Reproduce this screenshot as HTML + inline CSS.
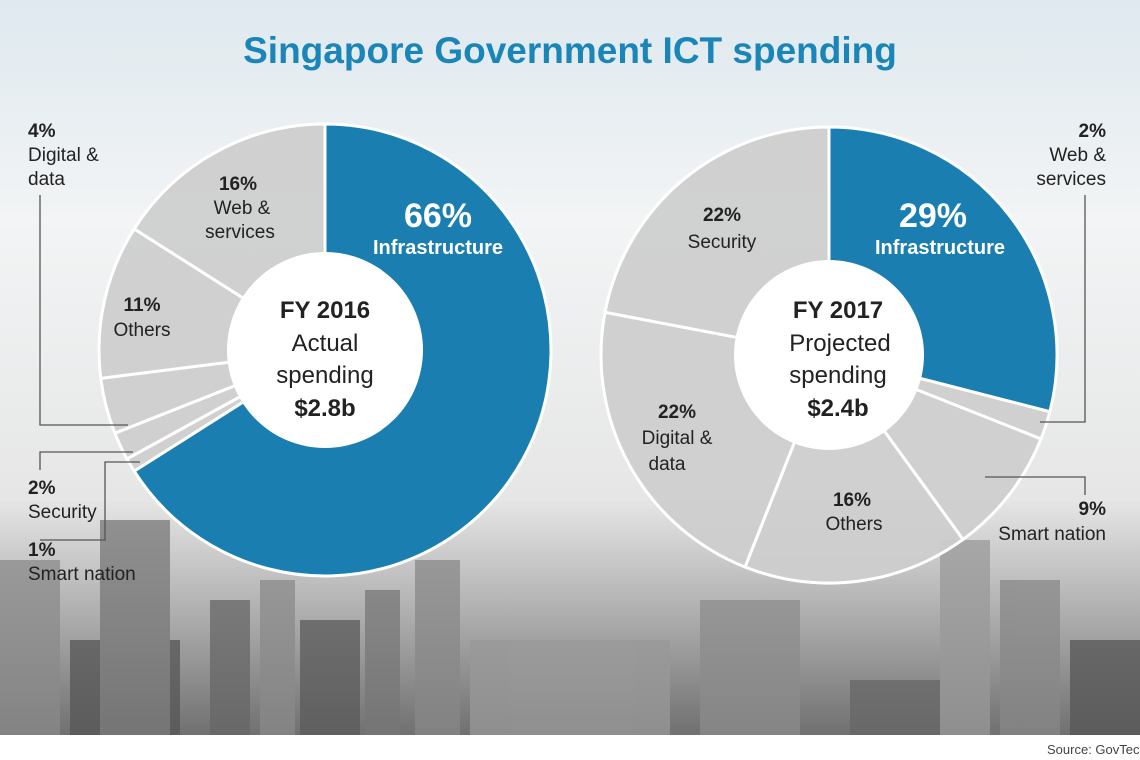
<!DOCTYPE html>
<html><head><meta charset="utf-8"><style>
body{margin:0;width:1140px;height:760px;overflow:hidden;font-family:"Liberation Sans",sans-serif;background:#fff}
svg{display:block}
</style></head><body>
<svg width="1140" height="760">
<defs>
<linearGradient id="bg" x1="0" y1="0" x2="0" y2="1">
<stop offset="0" stop-color="#dfe9ef"/><stop offset="0.3" stop-color="#f2f4f5"/><stop offset="0.68" stop-color="#e6e6e6"/><stop offset="0.85" stop-color="#a9a9a9"/><stop offset="1" stop-color="#707070"/>
</linearGradient>
</defs>
<rect x="0" y="0" width="1140" height="735" fill="url(#bg)"/>
<g id="city" fill="#8a8a8a" opacity="0.75">
<rect x="0" y="560" width="60" height="175"/><rect x="70" y="640" width="110" height="95" fill="#555"/><rect x="100" y="520" width="70" height="215" fill="#777"/>
<rect x="210" y="600" width="40" height="135" fill="#666"/><rect x="260" y="580" width="35" height="155"/><rect x="300" y="620" width="60" height="115" fill="#5a5a5a"/>
<rect x="365" y="590" width="35" height="145" fill="#777"/><rect x="415" y="560" width="45" height="175" fill="#888"/><rect x="470" y="640" width="200" height="95" fill="#999"/>
<rect x="700" y="600" width="100" height="135" fill="#8c8c8c"/><rect x="850" y="680" width="110" height="55" fill="#666"/><rect x="940" y="540" width="50" height="195" fill="#999"/>
<rect x="1000" y="580" width="60" height="155" fill="#888"/><rect x="1070" y="640" width="70" height="95" fill="#555"/>
</g>
<text x="570" y="63" text-anchor="middle" font-size="37" font-weight="bold" fill="#1a86b8">Singapore Government ICT spending</text>
<g id="d1"></g><g id="d2"></g>
<g font-size="19" fill="#222">
<text x="325" y="318" text-anchor="middle" font-weight="bold" font-size="24">FY 2016</text>
<text x="325" y="351" text-anchor="middle" font-size="24">Actual</text>
<text x="325" y="383" text-anchor="middle" font-size="24">spending</text>
<text x="325" y="416" text-anchor="middle" font-weight="bold" font-size="24">$2.8b</text>
<text x="838" y="318" text-anchor="middle" font-weight="bold" font-size="24">FY 2017</text>
<text x="840" y="351" text-anchor="middle" font-size="24">Projected</text>
<text x="838" y="383" text-anchor="middle" font-size="24">spending</text>
<text x="838" y="416" text-anchor="middle" font-weight="bold" font-size="24">$2.4b</text>
<text x="438" y="227" text-anchor="middle" fill="#fff" font-weight="bold" font-size="34">66%</text>
<text x="438" y="254" text-anchor="middle" fill="#fff" font-weight="bold" font-size="20">Infrastructure</text>
<text x="933" y="227" text-anchor="middle" fill="#fff" font-weight="bold" font-size="34">29%</text>
<text x="940" y="254" text-anchor="middle" fill="#fff" font-weight="bold" font-size="20">Infrastructure</text>
<text x="238" y="190" text-anchor="middle" font-weight="bold">16%</text><text x="242" y="214" text-anchor="middle">Web &amp;</text><text x="240" y="238" text-anchor="middle">services</text>
<text x="142" y="311" text-anchor="middle" font-weight="bold">11%</text><text x="142" y="336" text-anchor="middle">Others</text>
<text x="28" y="137" font-weight="bold">4%</text><text x="28" y="161">Digital &amp;</text><text x="28" y="185">data</text>
<text x="28" y="494" font-weight="bold">2%</text><text x="28" y="518">Security</text>
<text x="28" y="556" font-weight="bold">1%</text><text x="28" y="580">Smart nation</text>
<text x="722" y="221" text-anchor="middle" font-weight="bold">22%</text><text x="722" y="248" text-anchor="middle">Security</text>
<text x="677" y="418" text-anchor="middle" font-weight="bold">22%</text><text x="677" y="444" text-anchor="middle">Digital &amp;</text><text x="667" y="470" text-anchor="middle">data</text>
<text x="852" y="506" text-anchor="middle" font-weight="bold">16%</text><text x="854" y="530" text-anchor="middle">Others</text>
<text x="1106" y="137" text-anchor="end" font-weight="bold">2%</text><text x="1106" y="161" text-anchor="end">Web &amp;</text><text x="1106" y="185" text-anchor="end">services</text>
<text x="1106" y="515" text-anchor="end" font-weight="bold">9%</text><text x="1106" y="540" text-anchor="end">Smart nation</text>
</g>
<g stroke="#555" stroke-width="1.3" fill="none">
<polyline points="40,195 40,425 128,425"/><polyline points="40,470 40,452 133,452"/>
<polyline points="40,540 105,540 105,462 140,462"/>
<polyline points="1085,195 1085,422 1040,422"/><polyline points="1085,495 1085,477 985,477"/>
</g>
<rect x="0" y="735" width="1140" height="25" fill="#fff"/>
<text x="1047" y="754" font-size="13" fill="#444">Source: GovTech</text>
</svg>
<script>
const labels1=["Infrastructure","Smart nation","Security","Digital & data","Others","Web & services"];
const values1=[66,1,2,4,11,16];
const labels2=["Infrastructure","Web & services","Smart nation","Others","Digital & data","Security"];
const values2=[29,2,9,16,22,22];
function donut(g,cx,cy,R,r,labels,values){
  const ns="http://www.w3.org/2000/svg";
  const tot=values.reduce((a,b)=>a+b,0);let a=0;
  values.forEach((v,i)=>{
    const a0=a/tot*2*Math.PI,a1=(a+v)/tot*2*Math.PI;a+=v;
    const p=(ang,rad)=>[cx+rad*Math.sin(ang),cy-rad*Math.cos(ang)];
    const [x0,y0]=p(a0,R),[x1,y1]=p(a1,R);const lg=(a1-a0)>Math.PI?1:0;
    const el=document.createElementNS(ns,"path");
    el.setAttribute("d",`M${cx},${cy}L${x0},${y0}A${R},${R} 0 ${lg} 1 ${x1},${y1}Z`);
    el.setAttribute("fill",i===0?"#1a7fb0":"rgba(205,205,205,0.93)");
    el.setAttribute("stroke","#fff");el.setAttribute("stroke-width","3");
    
    
    g.appendChild(el);
  });
  const c=document.createElementNS(ns,"circle");
  c.setAttribute("cx",cx);c.setAttribute("cy",cy);c.setAttribute("r",r);c.setAttribute("fill","#fff");
  
  
  g.appendChild(c);
}
donut(document.getElementById("d1"),325,350,226,98,labels1,values1);
donut(document.getElementById("d2"),829,355,228,95,labels2,values2);
</script>
</body></html>
